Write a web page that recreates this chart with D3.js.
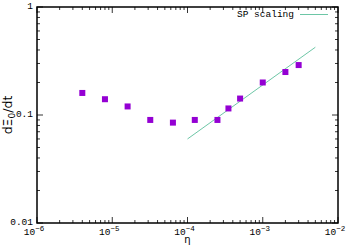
<!DOCTYPE html>
<html>
<head>
<meta charset="utf-8">
<script src="https://cdn.jsdelivr.net/npm/d3@7"></script>
<style>
body { margin: 0; background: #fff; }
</style>
</head>
<body>
<div id="chart"></div>
<script>
// data
var etaVals = [4e-6, 8e-6, 1.6e-5, 3.2e-5, 6.4e-5, 1.25e-4, 2.5e-4, 3.5e-4, 5e-4, 1e-3, 2e-3, 3e-3];
var rateVals = [0.16, 0.14, 0.12, 0.09, 0.085, 0.09, 0.09, 0.115, 0.142, 0.2, 0.25, 0.29];

// SP scaling line end points
var lineEta = [1e-4, 5e-3];
var lineRate = [0.06, 0.424];

var xTickExp = [-6, -5, -4, -3, -2];
var yTickVals = [0.01, 0.1, 1];
var yTickLabels = ["0.01", "0.1", "1"];

var svgwdth = 350, svghght = 245;
var margin = {top: 7, right: 12, bottom: 22, left: 37};
var width = svgwdth - margin.left - margin.right;
var height = svghght - margin.top - margin.bottom;

var svg = d3.select("#chart").append("svg")
  .attr("width", svgwdth)
  .attr("height", svghght);

var g = svg.append("g").attr("transform", `translate(${margin.left}, ${margin.top})`);

var x = d3.scaleLog().domain([1e-6, 1e-2]).range([0, width]);
var y = d3.scaleLog().domain([0.01, 1]).range([height, 0]);

// minor + major ticks, inward, on all sides
var xMinor = [];
for (var e = -6; e < -2; e++) for (var m = 2; m <= 9; m++) xMinor.push(m * Math.pow(10, e));
var yMinor = [];
for (var e2 = -2; e2 < 0; e2++) for (var m2 = 2; m2 <= 9; m2++) yMinor.push(m2 * Math.pow(10, e2));
var xMajor = xTickExp.map(d => Math.pow(10, d));

var tk = g.append("g").attr("stroke", "#000").attr("stroke-width", 0.8);
xMinor.forEach(function(v) {
  tk.append("line").attr("x1", x(v)).attr("x2", x(v)).attr("y1", height).attr("y2", height - 3);
  tk.append("line").attr("x1", x(v)).attr("x2", x(v)).attr("y1", 0).attr("y2", 3);
});
xMajor.forEach(function(v) {
  tk.append("line").attr("x1", x(v)).attr("x2", x(v)).attr("y1", height).attr("y2", height - 6);
  tk.append("line").attr("x1", x(v)).attr("x2", x(v)).attr("y1", 0).attr("y2", 6);
});
yMinor.forEach(function(v) {
  tk.append("line").attr("x1", 0).attr("x2", 3).attr("y1", y(v)).attr("y2", y(v));
  tk.append("line").attr("x1", width).attr("x2", width - 3).attr("y1", y(v)).attr("y2", y(v));
});
yTickVals.forEach(function(v) {
  tk.append("line").attr("x1", 0).attr("x2", 6).attr("y1", y(v)).attr("y2", y(v));
  tk.append("line").attr("x1", width).attr("x2", width - 6).attr("y1", y(v)).attr("y2", y(v));
});

// tick labels
var xl = g.append("g").attr("font-family", "Liberation Mono, DejaVu Sans Mono, monospace").attr("font-size", 9.5);
xTickExp.forEach(function(e) {
  var t = xl.append("text").attr("x", x(Math.pow(10, e)) - 3).attr("y", height + 12)
    .attr("text-anchor", "middle");
  t.append("tspan").text("10");
  t.append("tspan").attr("dy", -4).attr("font-size", 7.5).text("\u2212" + Math.abs(e));
});
yTickVals.forEach(function(v, i) {
  xl.append("text").attr("x", -4).attr("y", y(v) + 2).attr("text-anchor", "end").text(yTickLabels[i]);
});

// axis titles
var yt = g.append("text")
  .attr("transform", `translate(${-25}, ${height / 2}) rotate(-90)`)
  .attr("text-anchor", "middle")
  .attr("font-family", "DejaVu Sans, sans-serif")
  .attr("font-size", 12.5);
yt.append("tspan").text("d\u039E");
yt.append("tspan").attr("dy", 3).attr("font-size", 9).text("0");
yt.append("tspan").attr("dy", -3).text("/dt");

g.append("text").attr("x", width / 2).attr("y", height + 19.5)
  .attr("text-anchor", "middle")
  .attr("font-family", "DejaVu Sans, sans-serif")
  .attr("font-size", 10)
  .text("\u03B7");

// SP scaling line
var line = d3.line().x(d => x(d[0])).y(d => y(d[1]));
g.append("path")
  .datum(lineEta.map((d, i) => [d, lineRate[i]]))
  .attr("d", line)
  .attr("fill", "none")
  .attr("stroke", "#5cbf9c")
  .attr("stroke-width", 0.9);

// points
g.selectAll("rect.pt")
  .data(etaVals)
  .enter().append("rect")
  .attr("class", "pt")
  .attr("x", d => x(d) - 3)
  .attr("y", (d, i) => y(rateVals[i]) - 3)
  .attr("width", 6)
  .attr("height", 6)
  .attr("fill", "#9400d3");

// legend
g.append("text").attr("x", 200).attr("y", 10)
  .attr("font-family", "Liberation Mono, DejaVu Sans Mono, monospace")
  .attr("font-size", 9.5)
  .text("SP scaling");
g.append("line").attr("x1", 263).attr("x2", 291).attr("y1", 7.5).attr("y2", 7.5)
  .attr("stroke", "#5cbf9c").attr("stroke-width", 0.9);

// frame
g.append("rect").attr("width", width).attr("height", height)
  .attr("fill", "none").attr("stroke", "#000").attr("stroke-width", 1.5);
</script>
</body>
</html>
